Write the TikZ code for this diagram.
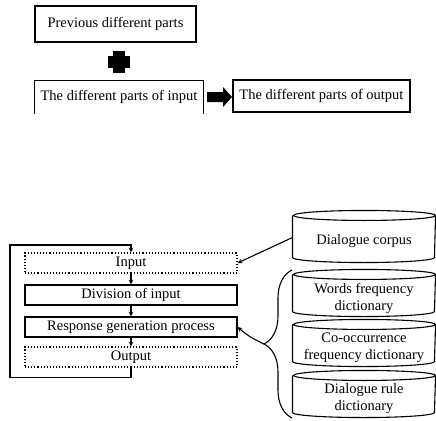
\documentclass[tikz,border=0pt]{standalone}
\usepackage{fontspec}
\setmainfont{Liberation Serif}
\usetikzlibrary{decorations.pathreplacing}

% outline of a drum round a node that holds the body below the top rim
\newcommand\drumoutline[1]{%
  \draw ([yshift=5pt]#1.north west) -- ([yshift=5pt]#1.south west)
    arc[start angle=180,end angle=360,x radius=71pt,y radius=5pt]
    -- ([yshift=5pt]#1.north east)
    arc[start angle=0,end angle=360,x radius=71pt,y radius=5pt];}

\begin{document}
\begin{tikzpicture}[x=1pt,y=-1pt,line width=1.1pt,
    txt/.style={font=\fontsize{14.5}{17}\selectfont},
    partbox/.style={txt,inner sep=0pt,minimum height=32pt},
    stepbox/.style={txt,draw,inner sep=0pt,minimum width=212pt,minimum height=20pt},
    dotbox/.style={stepbox,dotted},
    dbbody/.style={txt,align=center,inner sep=0pt,minimum width=142pt,minimum height=36pt}]

    % fix the margins of the picture
    \useasboundingbox (0,0) rectangle (436,420);

    % upper part: previous parts plus input parts give output parts
    \node[partbox,draw,minimum width=161pt,minimum height=36pt] (prevparts) at (115.5,24) {Previous different parts};
    \fill (113,51) rectangle (125,73);
    \fill (108,56) rectangle (130,68);
    \node[partbox,minimum width=168pt] (inparts) at (119,97) {The different parts of input};
    \draw (inparts.south west) -- (inparts.north west) -- (inparts.north east) -- (inparts.south east);
    \fill (207,92) -- (223,92) -- (223,87) -- (232,97) -- (223,107) -- (223,102) -- (207,102) -- cycle;
    \node[partbox,draw,minimum width=177pt] (outparts) at (321.5,96) {The different parts of output};

    % processing steps
    \node[dotbox] (input) at (131,263) {Input};
    \node[stepbox] (division) at (131,295) {Division of input};
    \node[stepbox] (response) at (131,327) {Response generation process};
    \node[dotbox] (output) at (131,357) {Output};
    \draw[-stealth] (input) -- (division);
    \draw[-stealth] (division) -- (response);
    \draw[-stealth] (response) -- (output);

    % feedback loop from output back to input
    \coordinate (loopcorner) at (10,245);
    \draw[-stealth] (output.south) -- ++(0,10) -| (loopcorner) -| (input.north);

    % corpus and dictionaries
    \node[dbbody,minimum height=41pt] (corpus) at (364,241.5) {Dialogue corpus};
    \node[dbbody] (wordsdict) at (364,298) {Words frequency\\dictionary};
    \node[dbbody] (coocdict) at (364,348) {Co-occurrence\\frequency dictionary};
    \node[dbbody] (ruledict) at (364,399) {Dialogue rule\\dictionary};
    \drumoutline{corpus}
    \drumoutline{wordsdict}
    \drumoutline{coocdict}
    \drumoutline{ruledict}
    \draw[-stealth] ([yshift=4pt]corpus.west) -- (input.east);

    % brace round the dictionaries
    \draw[decorate,decoration={brace,amplitude=28pt}] (292,418) -- (292,270);
    \coordinate (bracetip) at (264,344);
    \draw[-stealth] (bracetip) to[bend left=8] (response.east);

\end{tikzpicture}
\end{document}
